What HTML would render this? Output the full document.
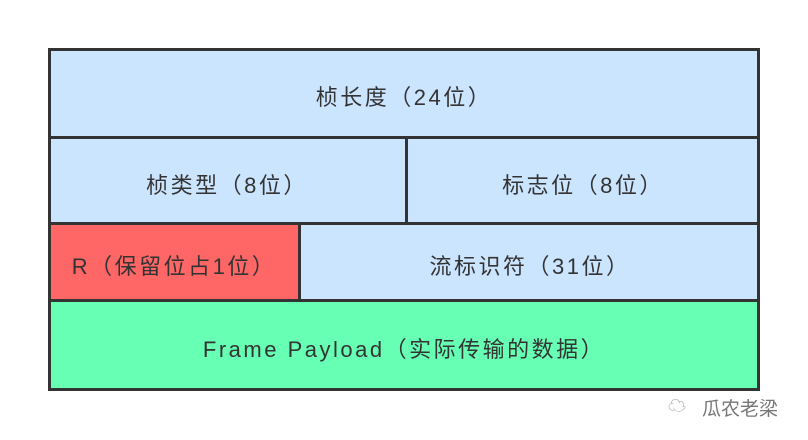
<!DOCTYPE html>
<html><head><meta charset="utf-8"><style>
body{margin:0;width:808px;height:440px;background:#fff;position:relative;overflow:hidden;font-family:"Liberation Sans","Noto Sans CJK SC",sans-serif;}
.c{position:absolute;display:flex;align-items:center;justify-content:center;font-size:22px;letter-spacing:2.5px;color:#333;box-sizing:border-box;padding-top:6px;}
.l{position:absolute;background:#333;}
</style></head><body>
<div class="c" style="left:48px;top:48px;width:712px;height:90px;background:#cce5ff">桢长度（24位）</div>
<div class="c" style="left:48px;top:137px;width:358px;height:87px;background:#cce5ff">桢类型（8位）</div>
<div class="c" style="left:406px;top:137px;width:354px;height:87px;background:#cce5ff">标志位（8位）</div>
<div class="c" style="left:48px;top:223px;width:252px;height:78px;background:#ff6666">R（保留位占1位）</div>
<div class="c" style="left:300px;top:223px;width:460px;height:78px;background:#cce5ff">流标识符（31位）</div>
<div class="c" style="left:48px;top:300px;width:712px;height:90px;background:#66ffb3">Frame Payload（实际传输的数据）</div>
<div class="l" style="left:48px;top:48px;width:712px;height:3px"></div>
<div class="l" style="left:48px;top:136px;width:712px;height:3px"></div>
<div class="l" style="left:48px;top:222px;width:712px;height:3px"></div>
<div class="l" style="left:48px;top:299px;width:712px;height:3px"></div>
<div class="l" style="left:48px;top:388px;width:712px;height:3px"></div>
<div class="l" style="left:48px;top:48px;width:3px;height:343px"></div>
<div class="l" style="left:757px;top:48px;width:3px;height:343px"></div>
<div class="l" style="left:405px;top:136px;width:3px;height:88px"></div>
<div class="l" style="left:298px;top:222px;width:3px;height:79px"></div>
<div style="position:absolute;left:668px;top:392px;width:30px;height:24px;color:#999;font-size:18px">☁</div>
<div style="position:absolute;left:702px;top:394px;font-size:19px;color:#777;font-family:'Liberation Sans','Noto Sans CJK SC',sans-serif">瓜农老梁</div>
</body></html>
